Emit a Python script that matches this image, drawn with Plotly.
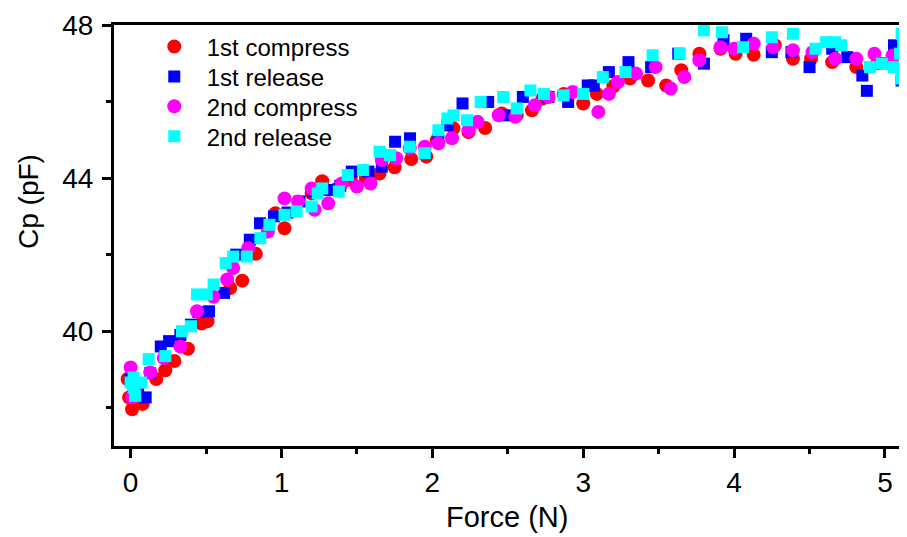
import plotly.graph_objects as go

# 1st compress (red circles)
c1_x = [-0.02, -0.01, 0.01, 0.08, 0.17, 0.23, 0.29, 0.38, 0.47, 0.51, 0.66, 0.74, 0.83, 0.96, 1.02,
        1.20, 1.27, 1.36, 1.46, 1.56, 1.65, 1.75, 1.86, 1.96, 2.03, 2.14, 2.24, 2.35, 2.46, 2.56,
        2.66, 2.73, 2.87, 3.00, 3.09, 3.20, 3.31, 3.43, 3.55, 3.65, 3.77, 3.91, 4.01, 4.13, 4.27,
        4.39, 4.51, 4.65, 4.81, 4.95, 5.08]
c1_y = [38.75, 38.27, 37.96, 38.10, 38.75, 38.98, 39.22, 39.54, 40.20, 40.26, 41.13, 41.32, 42.02, 43.08, 42.69,
        43.60, 43.92, 43.70, 43.95, 44.00, 44.12, 44.28, 44.50, 44.56, 44.99, 45.30, 45.20, 45.31, 45.69, 45.65,
        45.77, 46.08, 46.20, 45.95, 46.20, 46.40, 46.60, 46.55, 46.42, 46.82, 47.25, 47.38, 47.25, 47.22, 47.47,
        47.12, 47.12, 47.03, 46.90, 47.00, 47.10]

# 1st release (blue squares)
r1_x = [0.00, 0.02, 0.05, 0.10, 0.13, 0.20, 0.255, 0.33, 0.40, 0.45, 0.52, 0.62, 0.70, 0.79, 0.858,
        0.95, 1.04, 1.12, 1.21, 1.31, 1.39, 1.466, 1.576, 1.665, 1.753, 1.852, 1.95, 2.04, 2.10, 2.20,
        2.37, 2.48, 2.60, 2.77, 2.90, 3.03, 3.07, 3.17, 3.30, 3.45, 3.63, 3.80, 3.93, 4.08, 4.25,
        4.38, 4.50, 4.65, 4.75, 4.85, 4.88, 5.00, 5.06, 5.11, 5.12]
r1_y = [38.74, 38.50, 38.35, 38.27, 38.90, 39.60, 39.74, 39.90, 40.17, 40.50, 40.52, 41.00, 42.00, 42.39, 42.82,
        43.00, 43.10, 43.39, 43.65, 43.69, 43.80, 44.17, 44.17, 44.30, 44.95, 45.04, 44.65, 45.00, 45.38, 45.95,
        45.99, 45.64, 46.12, 46.12, 45.99, 46.42, 46.42, 46.77, 47.03, 46.90, 47.25, 46.99, 47.60, 47.64, 47.29,
        47.29, 46.90, 47.38, 47.16, 46.68, 46.28, 47.00, 47.47, 46.55, 47.30]

# 2nd compress (magenta circles)
c2_x = [0.00, 0.01, 0.04, 0.13, 0.22, 0.33, 0.44, 0.55, 0.64, 0.68, 0.78, 0.91, 1.02, 1.11, 1.20,
        1.22, 1.31, 1.40, 1.50, 1.59, 1.665, 1.76, 1.85, 1.95, 2.04, 2.13, 2.24, 2.30, 2.44, 2.55,
        2.68, 2.77, 2.93, 3.10, 3.17, 3.23, 3.35, 3.48, 3.58, 3.67, 3.77, 3.91, 4.00, 4.13, 4.26,
        4.39, 4.52, 4.67, 4.81, 4.93, 5.05, 5.12]
c2_y = [39.05, 38.27, 38.60, 38.92, 39.30, 39.60, 40.52, 40.90, 41.35, 41.65, 42.17, 42.60, 43.47, 43.39, 43.73,
        43.17, 43.34, 43.86, 43.78, 43.86, 44.47, 44.52, 44.78, 44.82, 44.91, 45.04, 45.25, 45.47, 45.64, 45.60,
        45.90, 46.12, 46.25, 45.73, 46.20, 46.51, 46.73, 46.90, 46.34, 46.64, 47.08, 47.42, 47.38, 47.51, 47.42,
        47.34, 47.29, 47.12, 47.12, 47.25, 47.20, 47.00]

# 2nd release (cyan squares)
r2_x = [0.00, 0.02, 0.02, 0.03, 0.07, 0.12, 0.23, 0.34, 0.40, 0.44, 0.505, 0.55, 0.63, 0.68, 0.77,
        0.86, 0.92, 1.02, 1.10, 1.20, 1.24, 1.27, 1.38, 1.44, 1.54, 1.65, 1.72, 1.85, 1.95, 2.04,
        2.10, 2.14, 2.23, 2.32, 2.47, 2.56, 2.65, 2.74, 2.87, 3.00, 3.13, 3.28, 3.46, 3.64, 3.80,
        3.92, 4.06, 4.25, 4.39, 4.54, 4.61, 4.67, 4.71, 4.90, 4.98, 5.06, 5.10, 5.11, 5.11, 5.12,
        5.13, 5.12]
r2_y = [38.66, 38.79, 38.53, 38.31, 38.66, 39.27, 39.35, 40.00, 40.13, 40.96, 40.96, 41.22, 41.78, 41.95, 41.95,
        42.43, 42.78, 43.04, 43.13, 43.26, 43.60, 43.73, 43.65, 44.08, 44.21, 44.69, 44.60, 44.82, 44.65, 45.25,
        45.56, 45.64, 45.51, 45.99, 46.12, 45.82, 46.29, 46.20, 46.16, 46.20, 46.64, 46.77, 47.21, 47.25, 47.86,
        47.81, 47.42, 47.68, 47.77, 47.38, 47.55, 47.55, 47.47, 46.90, 46.99, 46.90, 47.25, 47.77, 46.60, 47.50,
        47.00, 46.75]

FONT = "Arial, Liberation Sans, sans-serif"

fig = go.Figure()
fig.add_trace(go.Scatter(x=c1_x, y=c1_y, mode="markers", name="1st compress", legend="legend",
                         marker=dict(symbol="circle", size=14, color="#ff0000", line=dict(width=0))))
fig.add_trace(go.Scatter(x=r1_x, y=r1_y, mode="markers", name="1st release", legend="legend2",
                         marker=dict(symbol="square", size=12, color="#0000ff", line=dict(width=0))))
fig.add_trace(go.Scatter(x=c2_x, y=c2_y, mode="markers", name="2nd compress", legend="legend3",
                         marker=dict(symbol="circle", size=14, color="#ff00ff", line=dict(width=0))))
fig.add_trace(go.Scatter(x=r2_x, y=r2_y, mode="markers", name="2nd release", legend="legend4",
                         marker=dict(symbol="square", size=12, color="#00ffff", line=dict(width=0))))

def leg(yc):
    return dict(x=0.035, y=yc, xanchor="left", yanchor="middle",
                bgcolor="rgba(0,0,0,0)", borderwidth=0,
                font=dict(family=FONT, size=24, color="black"),
                itemwidth=55)

# the page body adds an 8px offset; margins compensate for it
fig.update_layout(
    width=899, height=529,
    margin=dict(l=106, r=0, t=17, b=91, autoexpand=False),
    plot_bgcolor="white", paper_bgcolor="white",
    font=dict(family=FONT, color="black"),
    showlegend=True,
    legend=leg(0.948), legend2=leg(0.877), legend3=leg(0.806), legend4=leg(0.735),
    xaxis=dict(range=[-0.11, 5.146], tick0=0, dtick=1, automargin=False,
               showgrid=False, zeroline=False,
               showline=True, linecolor="black", linewidth=3, mirror=True,
               ticks="outside", ticklen=9, tickwidth=3, tickcolor="black",
               tickfont=dict(family=FONT, size=28, color="black"),
               minor=dict(dtick=0.5, ticks="outside", ticklen=5, tickwidth=3, tickcolor="black", showgrid=False)),
    yaxis=dict(range=[37, 48], tick0=0, dtick=4, automargin=False,
               showgrid=False, zeroline=False,
               showline=True, linecolor="black", linewidth=3, mirror=False,
               ticks="outside", ticklen=9, tickwidth=3, tickcolor="black", ticklabelstandoff=3,
               tickfont=dict(family=FONT, size=28, color="black"),
               minor=dict(dtick=2, ticks="outside", ticklen=5, tickwidth=3, tickcolor="black", showgrid=False)),
    annotations=[
        dict(text="Force (N)", xref="paper", yref="paper", x=0.496, y=-0.169,
             xanchor="center", yanchor="middle", showarrow=False,
             font=dict(family=FONT, size=29, color="black")),
        dict(text="Cp (pF)", xref="paper", yref="paper", x=-0.107, y=0.58,
             xanchor="center", yanchor="middle", textangle=-90, showarrow=False,
             font=dict(family=FONT, size=28, color="black")),
    ],
)

fig.write_html("out.html")
